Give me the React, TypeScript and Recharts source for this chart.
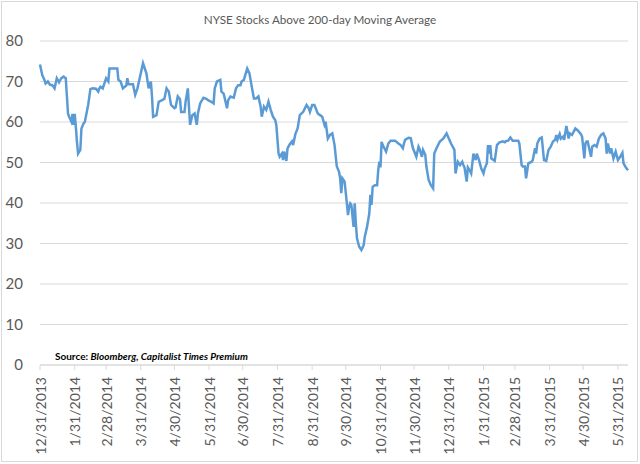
import { LineChart, Line, XAxis, YAxis, CartesianGrid } from 'recharts'

// trading days counted from 12/31/2013
const days = [
  0, 2, 4, 5, 7, 9, 11, 13, 15, 17, 19, 21, 23, 25, 26, 28, 29, 30, 31, 32,
  33, 34, 36, 37, 39, 40, 43, 45, 47, 50, 52, 53, 54, 56, 57, 59, 61, 62, 67, 69,
  70, 72, 74, 77, 78, 79, 83, 85, 87, 92, 95, 97, 99, 100, 101, 104, 106, 109, 111, 113,
  115, 117, 120, 121, 123, 125,
  126, 129, 130, 132, 134, 136, 138, 140, 141, 143, 146, 148, 150, 153, 155, 156, 158, 161, 162, 164,
  167, 168, 170, 173, 175, 177, 179, 180, 182, 185, 187, 189, 191, 193, 195, 197, 198, 200, 202, 204,
  206, 208, 210, 211, 213, 214, 216, 217, 218, 220, 221, 223, 225, 226, 228, 230, 232, 235, 238, 240,
  241, 243, 245, 248, 250, 252, 254, 255, 257, 259, 261,
  263, 265, 267, 268, 269, 270, 271, 272, 274, 275, 276, 277, 278, 280, 281, 282, 283, 285, 287, 289,
  290, 292, 294, 295, 296, 297, 299, 301, 302, 303, 304, 305, 306, 309, 311, 313, 317, 320, 322, 324,
  325, 326, 329, 331, 333, 336, 338, 339, 341, 342, 344, 345, 347, 349, 351, 352, 354, 357, 360, 363,
  365, 367, 370, 371, 373, 375, 377, 378, 379, 381, 382, 384,
  385, 387, 389, 390, 392, 394, 396, 397, 399, 400, 401, 402, 403, 406, 408, 410, 413, 415, 416, 418,
  420, 422, 427, 428, 430, 431, 433, 434, 436, 439, 440, 442, 443, 444, 446, 448, 450, 452, 454, 456,
  458, 460, 461, 462, 464, 465, 467, 468, 470, 472, 473, 475, 478, 480, 483, 484, 486, 487, 488, 489,
  492, 493, 495, 497, 499, 501, 503, 505, 506, 507, 509, 510, 512, 514, 516, 518, 520, 521, 523, 525,
]

// % of NYSE stocks above their 200-day moving average
const pctAbove = [
  74.2, 71.6, 70.4, 69.5, 70.0, 69.2, 69.1, 68.3, 70.8, 69.8, 70.8, 71.2, 70.8, 62.1, 61.3, 60.1, 62, 59.3, 62, 58.8,
  55.1, 52.2, 53.1, 58.4, 59.7, 60, 64.2, 68.1, 68.3, 68.2, 67.5, 68.3, 68.7, 68.3, 69.1, 70.8, 70, 73.2, 73.2, 73.2,
  70.4, 70, 68.3, 69, 70.8, 69.3, 69.3, 66.7, 68.3, 74.5, 72, 68.3, 70, 66.3, 61.3, 61.7, 65, 65.4, 65.7, 68.3,
  67.5, 64.2, 63.4, 63.6, 66.3, 65.6,
  62.5, 62.5, 65, 68.3, 59.3, 61.7, 62.1, 59.3, 62.1, 64.6, 66, 65.8, 65.4, 65, 64.6, 68.3, 70, 70.4, 67.5, 67,
  63.4, 65.4, 66.3, 66, 68.3, 69.1, 69.1, 70, 70.4, 73.2, 72, 68.8, 65.8, 65.8, 66.3, 63.8, 61.3, 63.8, 63, 65,
  63, 61.3, 60.5, 59.3, 52.2, 51.4, 52.2, 50.6, 52.7, 50.4, 53.5, 54.5, 55.2, 54.3, 57, 58.4, 61.7, 62.5, 64.2, 63.4,
  62.5, 64.2, 64.2, 62.1, 61.7, 61.3, 59.3, 60.1, 55.9, 56.8, 57.2,
  54.3, 49, 47.7, 46.1, 42.4, 46.1, 45.7, 45.2, 39.9, 37, 39.1, 39.9, 39.5, 34.1, 39.9, 35, 31.3, 29.2, 28.4, 29.6,
  31.7, 34.1, 37.4, 42, 39.5, 44, 44.4, 44.4, 48.1, 50.2, 48.8, 55.1, 54.3, 52.7, 54.7, 55.4, 55.4, 54.7, 54.3, 53.5,
  54.7, 55.6, 56.1, 56, 53.5, 51.4, 53.9, 53.3, 51.4, 53.1, 51.9, 49, 45.7, 44.4, 43.6, 52.2, 53.5, 55.2, 55.9, 57.2,
  55.9, 54.7, 53.1, 47.3, 50.2, 49.4, 50.2, 49.4, 48.8, 45.3, 48.8, 47.9,
  47.3, 52.2, 50.6, 52.2, 50.6, 48.5, 47.3, 48.5, 49.8, 54.3, 52.2, 54.3, 51, 50.4, 54.3, 54.9, 55.2, 55, 55.3, 55.4,
  56.2, 55.4, 55.4, 54.7, 49.4, 49, 49, 46.1, 49.8, 50.2, 50.6, 53.5, 52.2, 54.7, 55.9, 56.2, 50.6, 50.4, 53.1, 53.9,
  55.2, 55.6, 56.8, 55.6, 57, 55.9, 56.4, 55.6, 59, 55.9, 57.2, 56.8, 58.4, 58, 57, 56.4, 51, 54.7, 55.2, 55.2,
  51.4, 53.9, 54.3, 53.9, 55.9, 56.8, 57.2, 55.9, 52.2, 54.7, 52.2, 53.5, 51, 52.7, 50.6, 51.4, 52.4, 49.8, 48.8, 48.1,
]

const tickDays = [0, 31, 59, 90, 120, 151, 181, 212, 243, 273, 304, 334, 365, 396, 424, 455, 485, 516]
const tickLabels = [
  '12/31/2013', '1/31/2014', '2/28/2014', '3/31/2014', '4/30/2014', '5/31/2014',
  '6/30/2014', '7/31/2014', '8/31/2014', '9/30/2014', '10/31/2014', '11/30/2014',
  '12/31/2014', '1/31/2015', '2/28/2015', '3/31/2015', '4/30/2015', '5/31/2015',
]
const yTicks = [0, 10, 20, 30, 40, 50, 60, 70, 80]

const data = days.map((d, i) => ({ day: d, pct: pctAbove[i] }))

const FONT = 'Lato, "Open Sans", sans-serif'
const TEXT = '#595959'
const GRID = '#d9d9d9'

/** rotated date labels, reading bottom-to-top, centred on the tick */
function DateTick({ x, y, payload }: { x?: number; y?: number; payload?: { value: number } }) {
  const label = tickLabels[tickDays.indexOf(payload?.value ?? -1)] ?? ''
  return (
    <text
      transform={`translate(${x},${y}) rotate(-90)`}
      textAnchor="end"
      dominantBaseline="central"
      fontSize={14}
      fontFamily={FONT}
      fill={TEXT}
    >
      {label}
    </text>
  )
}

export default function App() {
  return (
    <div
      style={{
        position: 'fixed',
        left: 0,
        top: 0,
        width: 640,
        height: 464,
        background: '#fff',
        fontFamily: FONT,
      }}
    >
      <div
        style={{
          position: 'absolute',
          left: 1,
          top: 1,
          width: 635,
          height: 459,
          border: `1px solid ${GRID}`,
          pointerEvents: 'none',
        }}
      />
      <div
        style={{
          position: 'absolute',
          left: 0,
          width: 640,
          top: 12,
          textAlign: 'center',
          fontSize: 11.7,
          color: TEXT,
        }}
      >
        NYSE Stocks Above 200-day Moving Average
      </div>

      <LineChart width={640} height={464} data={data} margin={{ top: 41, right: 12, left: 0, bottom: 0 }}>
        <CartesianGrid vertical={false} stroke={GRID} />
        <XAxis
          dataKey="day"
          type="number"
          domain={[0, 525]}
          ticks={tickDays}
          interval={0}
          height={99}
          tickSize={5}
          tickMargin={7}
          stroke={GRID}
          tick={<DateTick />}
        />
        <YAxis
          domain={[0, 80]}
          ticks={yTicks}
          width={40}
          axisLine={false}
          tickLine={false}
          tickSize={0}
          tickMargin={17}
          tick={{ fontSize: 15, fill: TEXT, fontFamily: FONT }}
        />
        <Line
          type="linear"
          dataKey="pct"
          stroke="#5b9bd5"
          strokeWidth={2.5}
          dot={false}
          isAnimationActive={false}
        />
      </LineChart>

      <div
        style={{
          position: 'absolute',
          left: 55,
          top: 350,
          fontSize: 10,
          fontWeight: 700,
          color: '#000',
          whiteSpace: 'nowrap',
        }}
      >
        Source: <i>Bloomberg, Capitalist Times Premium</i>
      </div>
    </div>
  )
}
